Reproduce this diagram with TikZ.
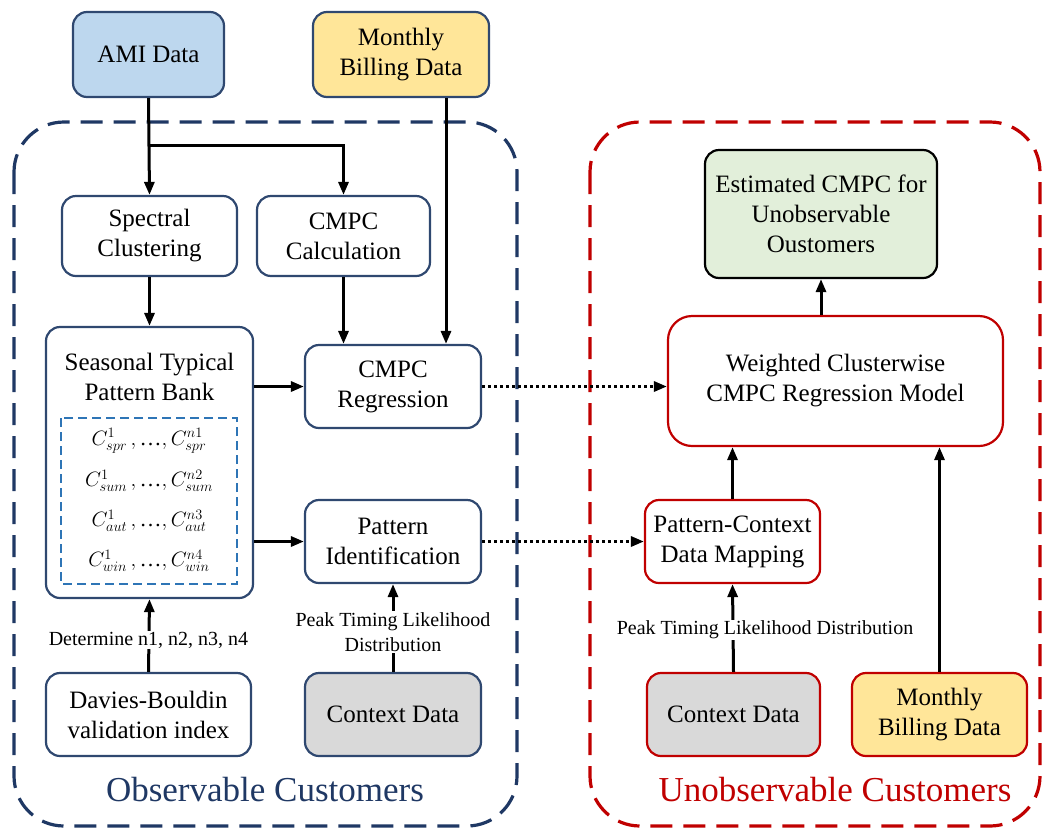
\documentclass[tikz,border=0pt]{standalone}
\usepackage{fontspec}
\setmainfont{Liberation Serif}
\usetikzlibrary{arrows.meta}
\definecolor{navy}{HTML}{2F4870}
\definecolor{navyd}{HTML}{1F3864}
\definecolor{redc}{HTML}{C00000}
\definecolor{amiblue}{HTML}{BDD7EE}
\definecolor{billy}{HTML}{FFE699}
\definecolor{ctxg}{HTML}{D9D9D9}
\definecolor{estg}{HTML}{E2EFDA}
\definecolor{innerb}{HTML}{2E75B6}
\newcommand{\mydots}{\mbox{…}}
\begin{document}
\begin{tikzpicture}[x=1pt,y=-1pt,
  box/.style={draw, rounded corners=14pt, line width=2.2pt, align=center,
    font=\fontsize{25}{30}\selectfont, inner sep=0pt},
  obs/.style={box, draw=navy, fill=white},
  uno/.style={box, draw=redc, fill=white},
  arr/.style={line width=3pt, -{Triangle[length=13pt,width=10pt]}},
  dotarr/.style={line width=3pt, dash pattern=on 3pt off 3pt, -{Triangle[length=13pt,width=10pt]}},
  lab/.style={font=\fontsize{20}{25}\selectfont, fill=white, align=center, inner sep=1pt},
  grp/.style={line width=3.2pt, dash pattern=on 22pt off 11pt, rounded corners=50pt},
  mth/.style={font=\fontsize{22}{26}\selectfont, inner sep=0pt}
]
\path[use as bounding box] (0,0) rectangle (1046,828);

% groups
\draw[grp, draw=navyd] (14,122) rectangle (517,826);
\draw[grp, draw=redc] (590,122) rectangle (1040,826);
\node[font=\fontsize{35}{40}\selectfont, text=navyd] (tobs) at (265,790) {Observable Customers};
\node[font=\fontsize{35}{40}\selectfont, text=redc] (tuno) at (835,790) {Unobservable Customers};

% nodes
\node[box, draw=navy, fill=amiblue, minimum width=151pt, minimum height=85pt] (ami) at (148.5,54.5) {AMI Data};
\node[box, draw=navy, fill=billy, minimum width=176pt, minimum height=85pt] (mb) at (401,54.5) {Monthly\\Billing Data};
\node[obs, minimum width=175pt, minimum height=80pt] (sc) at (149.5,236) {Spectral\\Clustering};
\node[obs, minimum width=173pt, minimum height=80pt] (cc) at (343.5,236) {CMPC\\Calculation};
\node[obs, minimum width=207pt, minimum height=271pt] (pb) at (149.5,462.5) {};
\node[font=\fontsize{25}{30}\selectfont, align=center] (pbt) at (149.5,377) {Seasonal Typical\\Pattern Bank};
\draw[innerb, line width=1.6pt, dash pattern=on 9pt off 5pt] (61,418) rectangle (237,584);
\node[mth] (m1) at (149,441) {$C^{1}_{spr}\,,\mydots,C^{n1}_{spr}$};
\node[mth] (m2) at (149,481) {$C^{1}_{sum}\,,\mydots,C^{n2}_{sum}$};
\node[mth] (m3) at (149,521) {$C^{1}_{aut}\,,\mydots,C^{n3}_{aut}$};
\node[mth] (m4) at (149,561) {$C^{1}_{win}\,,\mydots,C^{n4}_{win}$};
\node[obs, minimum width=176pt, minimum height=83pt] (rg) at (393,386.5) {CMPC\\Regression};
\node[obs, minimum width=176pt, minimum height=83pt] (pi) at (393,541.5) {Pattern\\Identification};
\node[obs, minimum width=205pt, minimum height=83pt] (db) at (148.5,714.5) {Davies-Bouldin\\validation index};
\node[obs, fill=ctxg, minimum width=176pt, minimum height=83pt] (cx) at (393,714.5) {Context Data};

\node[box, draw=black, fill=estg, minimum width=232pt, minimum height=128pt] (est) at (821,214) {Estimated CMPC for\\Unobservable\\Oustomers};
\node[uno, rounded corners=24pt, minimum width=335pt, minimum height=130pt] (wc) at (835.5,381) {Weighted Clusterwise\\CMPC Regression Model};
\node[uno, minimum width=175pt, minimum height=83pt] (pcm) at (732.5,541.5) {Pattern-Context\\Data Mapping};
\node[uno, fill=ctxg, minimum width=173pt, minimum height=83pt] (cxr) at (733.5,714.5) {Context Data};
\node[uno, fill=billy, minimum width=175pt, minimum height=83pt] (mbr) at (939.5,714.5) {Monthly\\Billing Data};

% connectors
\coordinate (br) at (148.5,145);
\coordinate (mbx) at (446,0);
\draw[arr] (ami.south) -- (sc.north);
\draw[arr] (br) -| (cc.north);
\draw[arr] (mb.south -| mbx) -- (rg.north -| mbx);
\draw[arr] (cc.south) -- (rg.north -| cc.south);
\draw[arr] (sc.south) -- (pb.north);
\draw[arr] (pb.east |- rg.west) -- (rg.west);
\draw[arr] (pb.east |- pi.west) -- (pi.west);
\draw[arr] (db.north) -- (pb.south);
\draw[arr] (cx.north) -- (pi.south);
\draw[dotarr] (rg.east) -- (rg.east -| wc.west);
\draw[dotarr] (pi.east) -- (pcm.west);
\draw[arr] (pcm.north) -- (wc.south -| pcm.north);
\draw[arr] (mbr.north) -- (wc.south -| mbr.north);
\draw[arr] (cxr.north) -- (pcm.south);
\draw[arr] (wc.north -| est.south) -- (est.south);

% labels
\node[lab] (l1) at (148.5,640) {Determine n1, n2, n3, n4};
\node[lab] (l2) at (393,632) {Peak Timing Likelihood\\Distribution};
\node[lab] (l3) at (765,630) {Peak Timing Likelihood Distribution};
\end{tikzpicture}
\end{document}
